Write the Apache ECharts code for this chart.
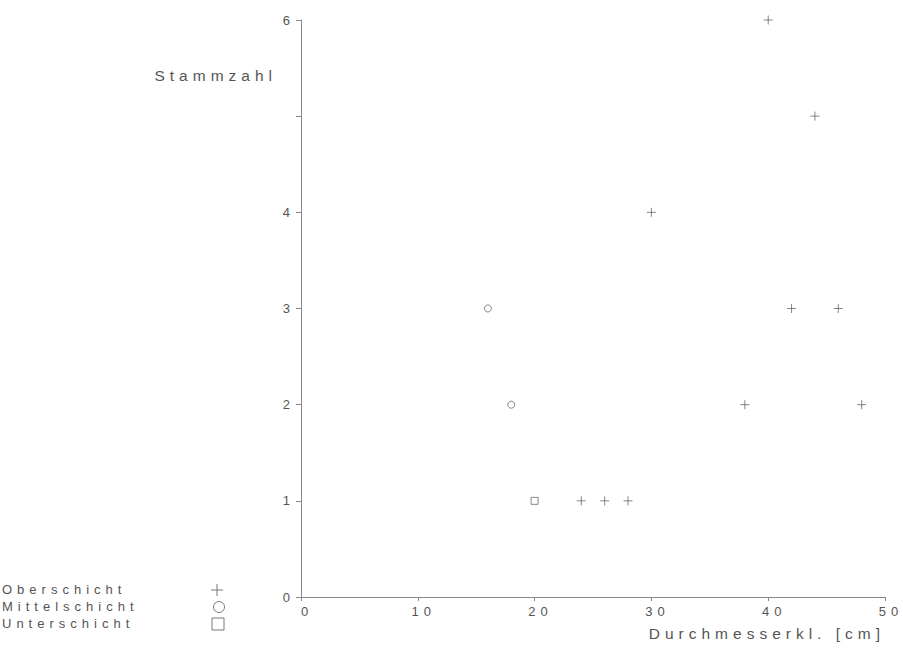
<!DOCTYPE html>
<html>
<head>
<meta charset="utf-8">
<script src="https://cdn.jsdelivr.net/npm/echarts@6/dist/echarts.min.js"></script>
<style>
html,body{margin:0;padding:0;background:#fff;}
#chart{width:903px;height:653px;}
#chart svg text{letter-spacing:5px;}
</style>
</head>
<body>
<div id="chart"></div>
<script>
const seriesNames = ['Oberschicht', 'Mittelschicht', 'Unterschicht'];
const oberschicht = [[24,1],[26,1],[28,1],[30,4],[38,2],[40,6],[42,3],[44,5],[46,3],[48,2]];
const mittelschicht = [[16,3],[18,2]];
const unterschicht = [[20,1]];
const xTicks = [0,10,20,30,40,50];
const yTickLabels = {0:'0',1:'1',2:'2',3:'3',4:'4',5:'',6:'6'};

const plusPath = 'path://M0,5L10,5M5,0L5,10';
const chart = echarts.init(document.getElementById('chart'), null, {renderer:'svg'});
const font = 'Liberation Sans, Arial, sans-serif';
const txt = {color:'#555', fontFamily:font, fontSize:13};
const nameTxt = {color:'#555', fontFamily:font, fontSize:15.5};
const markStyle = {color:'rgba(0,0,0,0)', borderColor:'#666', borderWidth:1};
const legendRowY = [590, 607, 624];
const legendGraphics = [];
seriesNames.forEach(function(n, i){
  legendGraphics.push({type:'text', left:2, top:legendRowY[i]-7, style:{text:n, fill:'#555', font:'13px ' + font}});
});
legendGraphics.push({type:'group', children:[
  {type:'line', shape:{x1:211, y1:legendRowY[0], x2:223, y2:legendRowY[0]}, style:{stroke:'#777', lineWidth:1}},
  {type:'line', shape:{x1:217, y1:legendRowY[0]-6, x2:217, y2:legendRowY[0]+6}, style:{stroke:'#777', lineWidth:1}},
  {type:'circle', shape:{cx:219, cy:legendRowY[1], r:5.5}, style:{fill:'none', stroke:'#777', lineWidth:1}},
  {type:'rect', shape:{x:212, y:legendRowY[2]-6, width:12, height:12}, style:{fill:'none', stroke:'#777', lineWidth:1}}
]});

chart.setOption({
  animation:false,
  backgroundColor:'#fff',
  grid:{left:301, right:18, top:20, bottom:56, containLabel:false, outerBoundsMode:'none'},
  graphic:legendGraphics,
  xAxis:{
    type:'value', min:xTicks[0], max:xTicks[xTicks.length-1], interval:10,
    name:'Durchmesserkl. [cm]', nameLocation:'end', nameGap:0,
    nameTextStyle:Object.assign({align:'right', verticalAlign:'top', padding:[28,0,0,0]}, nameTxt),
    axisLine:{lineStyle:{color:'#888', width:1}},
    axisTick:{show:true, length:4, lineStyle:{color:'#888'}},
    axisLabel:Object.assign({margin:8, padding:[0,0,0,12]}, txt),
    splitLine:{show:false}
  },
  yAxis:{
    type:'value', min:0, max:6, interval:1,
    name:'Stammzahl', nameLocation:'end', nameGap:-55,
    nameTextStyle:Object.assign({align:'right', verticalAlign:'middle', padding:[0,24,0,0]}, nameTxt),
    axisLine:{show:true, lineStyle:{color:'#888', width:1}},
    axisTick:{show:true, length:5, lineStyle:{color:'#888'}},
    axisLabel:Object.assign({margin:6, formatter:function(v){return yTickLabels[v];}}, txt),
    splitLine:{show:false}
  },
  series:[
    {name:seriesNames[0], type:'scatter', symbol:plusPath, symbolSize:9, data:oberschicht, itemStyle:markStyle},
    {name:seriesNames[1], type:'scatter', symbol:'circle', symbolSize:7, data:mittelschicht, itemStyle:markStyle},
    {name:seriesNames[2], type:'scatter', symbol:'rect', symbolSize:7, data:unterschicht, itemStyle:markStyle}
  ]
});
</script>
</body>
</html>
